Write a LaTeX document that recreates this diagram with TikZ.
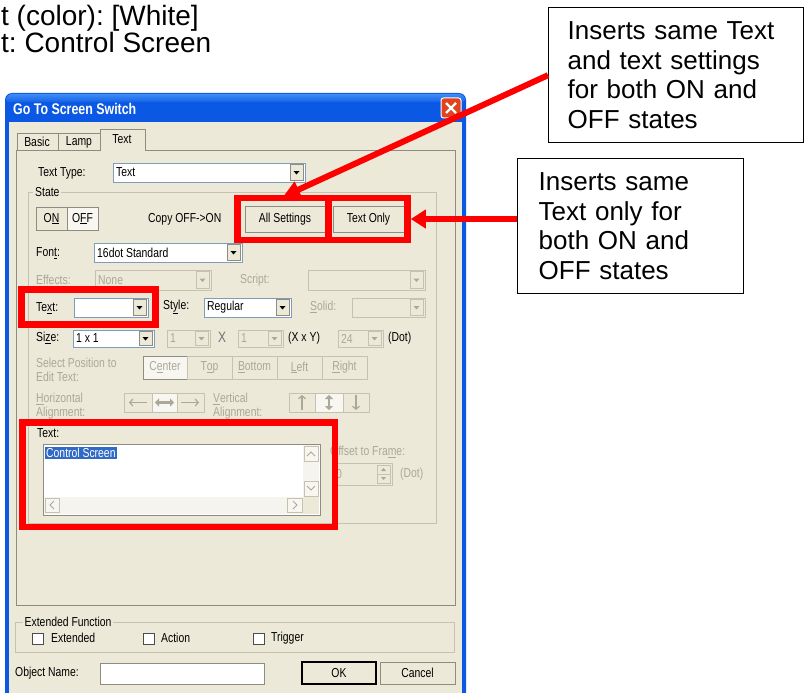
\documentclass[tikz,border=0pt]{standalone}
\usepackage{fontspec}
\setmainfont{Liberation Sans}
\newfontfamily\uif[FakeStretch=0.8]{Liberation Sans}
\usetikzlibrary{arrows.meta}
\frenchspacing
\definecolor{xpbg}{HTML}{ECE9D8}
\definecolor{xpbgL}{HTML}{F7F6F0}
\definecolor{xpblue}{HTML}{0A58E4}
\definecolor{xpblueL}{HTML}{3D8BF5}
\definecolor{xpdis}{HTML}{ACA899}
\definecolor{xpfield}{HTML}{7F9DB9}
\definecolor{xpline}{HTML}{C5C2B2}
\definecolor{xpsel}{HTML}{316AC5}
\definecolor{xpbtn}{HTML}{8E8C80}
\definecolor{xpred}{HTML}{E0441F}
\definecolor{xpscroll}{HTML}{F5F4EF}
\tikzset{
  ui/.style={font=\uif\fontsize{13}{15}\selectfont, inner sep=0pt, anchor=west, text=black},
  uid/.style={ui, text=xpdis},
  uic/.style={ui, anchor=center},
  uicd/.style={uid, anchor=center},
  toptext/.style={font=\fontsize{28}{28}\selectfont, anchor=base west, inner sep=0pt},
  titletext/.style={font=\uif\bfseries\fontsize{15.5}{17}\selectfont, text=white, anchor=base west, inner sep=0pt},
  call/.style={draw=black, line width=1.4pt, font=\fontsize{26}{29.6}\selectfont, align=left, anchor=north west, inner ysep=0pt},
  redbox/.style={draw=red, line width=6.5pt, inner sep=0pt},
  redarrow/.style={draw=red, line width=6pt},
  fieldbox/.style={draw=xpfield, fill=white, line width=0.8pt},
  disfield/.style={draw=xpline, fill=xpbg, line width=0.8pt},
  btnbox/.style={draw=xpbtn, fill=xpbg, line width=0.8pt},
  grpline/.style={draw=xpline, line width=0.8pt},
  tabline/.style={draw=xpbtn, line width=0.8pt},
  chk/.style={draw=black!70, fill=white, line width=0.8pt},
  arr/.style={draw=xpdis, line width=1.2pt},
}
\newcommand\uicombo[5]{%
  \draw[fieldbox] (#1,#2) rectangle (#3,#4);
  \draw[btnbox] ({#3-15},{#2+1.5}) rectangle ({#3-1.5},{#4-1.5});
  \fill ({#3-11.5},{(#2+#4)/2-1.5}) -- ++(6,0) -- ++(-3,3.5) -- cycle;
  \node[ui] at ({#1+3},{(#2+#4)/2}) {#5};
}
\newcommand\uicombod[5]{%
  \draw[disfield] (#1,#2) rectangle (#3,#4);
  \draw[disfield] ({#3-15},{#2+1.5}) rectangle ({#3-1.5},{#4-1.5});
  \fill[xpdis] ({#3-11.5},{(#2+#4)/2-1.5}) -- ++(6,0) -- ++(-3,3.5) -- cycle;
  \node[uid] at ({#1+3},{(#2+#4)/2}) {#5};
}
\newcommand\uibtn[5]{%
  \draw[btnbox] (#1,#2) rectangle (#3,#4);
  \node[uic] at ({(#1+#3)/2},{(#2+#4)/2}) {#5};
}
\newcommand\uibtnd[5]{%
  \draw[btnbox, draw=xpline] (#1,#2) rectangle (#3,#4);
  \node[uicd] at ({(#1+#3)/2},{(#2+#4)/2}) {#5};
}
\begin{document}
\begin{tikzpicture}[x=1pt,y=-1pt]
\useasboundingbox (0,0) rectangle (807,693);
\clip (0,0) rectangle (807,693);
\fill[white] (0,0) rectangle (807,693);

% text above the dialog
\node[toptext] (t1) at (1,26) {t (color): [White]};
\node[toptext] (t2) at (1,53) {t: Control Screen};

% window frame
\fill[xpblue, rounded corners=7pt] (5,93) rectangle (466,740);
\shade[top color=xpblueL, bottom color=xpblue, rounded corners=6pt] (6,94) rectangle (465,104);
\fill[xpblue] (6,102) rectangle (465,104);
\fill[xpbg] (9,122) rectangle (462,740);
\node[titletext] (title) at (13,114) {Go To Screen Switch};
\fill[xpred, rounded corners=2.5pt] (441,98) rectangle (461,118);
\draw[white, line width=1pt, rounded corners=2.5pt] (441,98) rectangle (461,118);
\draw[white, line width=2.4pt] (446,103) -- (456,113) (456,103) -- (446,113);

% tabs
\draw[tabline, fill=xpbg] (17,150) -- (17,133) -- (58,133) -- (58,150);
\draw[tabline, fill=xpbg] (58,150) -- (58,133) -- (100,133) -- (100,150);
\draw[tabline] (16,150) rectangle (455,605);
\filldraw[fill=xpbg, draw=xpbtn, line width=0.8pt] (100,151) -- (100,129) -- (145,129) -- (145,151);
\fill[xpbg] (100.5,149) rectangle (144.5,151.5);
\node[uic] (tabB) at (37,142) {Basic};
\node[uic] (tabL) at (79,142) {Lamp};
\node[uic] (tabT) at (122,139) {Text};

% text type
\node[ui] (lTT) at (38,173) {Text Type:};
\uicombo{113}{163}{305}{182}{Text}

% State group
\draw[grpline] (28,192) rectangle (436,523);
\node[ui, fill=xpbg, inner xsep=2pt] (lState) at (33,192) {State};

\draw[btnbox] (36,207) rectangle (67,230);
\node[uic] (bON) at (51.5,218.5) {O\underline{N}};
\draw[btnbox, fill=xpbgL] (67,207) rectangle (98,230);
\node[uic] (bOFF) at (82.5,218.5) {O\underline{F}F};
\node[ui] (lCopy) at (148,219) {Copy OFF->ON};
\uibtn{245}{206}{325}{232}{All Settings}
\uibtn{333}{206}{404}{232}{Text Only}

\node[ui] (lFont) at (36,253) {Fon\underline{t}:};
\uicombo{94}{243}{242}{262}{16dot Standard}
\node[uid] (lEff) at (36,280) {Effects:};
\uicombod{95}{270}{211}{290}{None}
\node[uid] (lScr) at (240,280) {Script:};
\uicombod{308}{270}{425}{290}{}

\node[ui] (lText) at (36,308) {Te\underline{x}t:};
\uicombo{74}{298}{148}{317}{}
\node[ui] (lStyle) at (163,307) {St\underline{y}le:};
\uicombo{204}{298}{291}{317}{Regular}
\node[uid] (lSolid) at (310,307) {\underline{S}olid:};
\uicombod{352}{298}{425}{317}{}

\node[ui] (lSize) at (36,338) {Si\underline{z}e:};
\uicombo{73}{330}{154}{347}{1 x 1}
\uicombod{167}{330}{210}{347}{1}
\node[ui, text=black!55, font=\uif\fontsize{15}{16}\selectfont] (lX) at (218,337) {X};
\uicombod{238}{330}{283}{347}{1}
\node[ui] (lXY) at (288,338) {(X x Y)};
\uicombod{338}{330}{383}{347}{24}
\node[ui] (lDot1) at (388,338) {(Dot)};

\node[uid] (lSel1) at (36,363) {Select Position to};
\node[uid] (lSel2) at (36,377) {Edit Text:};
\draw[btnbox, fill=xpbgL, draw=xpbtn] (143,356) rectangle (187,379);
\node[uicd] (bC) at (165,367.5) {C\underline{e}nter};
\uibtnd{187}{356}{232}{379}{T\underline{o}p}
\uibtnd{232}{356}{277}{379}{\underline{B}ottom}
\uibtnd{277}{356}{322}{379}{\underline{L}eft}
\uibtnd{322}{356}{367}{379}{\underline{R}ight}

\node[uid] (lH1) at (36,399) {\underline{H}orizontal};
\node[uid] (lH2) at (36,413) {Alignment:};
\draw[btnbox, draw=xpline] (124,393) rectangle (152,412);
\draw[btnbox, draw=xpline, fill=xpbgL] (152,393) rectangle (177,412);
\draw[btnbox, draw=xpline] (177,393) rectangle (204,412);
\draw[arr, -{Straight Barb[length=3pt,width=7pt]}] (147,402.5) -- (129,402.5);
\draw[arr, line width=2.4pt, {Triangle[length=4pt,width=8pt]}-{Triangle[length=4pt,width=8pt]}] (155,402.5) -- (174,402.5);
\draw[arr, -{Straight Barb[length=3pt,width=7pt]}] (181,402.5) -- (199,402.5);
\node[uid] (lV1) at (213,399) {\underline{V}ertical};
\node[uid] (lV2) at (213,413) {Alignment:};
\draw[btnbox, draw=xpline] (289,393) rectangle (315,412);
\draw[btnbox, draw=xpline, fill=xpbgL] (315,393) rectangle (343,412);
\draw[btnbox, draw=xpline] (343,393) rectangle (369,412);
\draw[arr, -{Straight Barb[length=3pt,width=7pt]}] (302,410) -- (302,395);
\draw[arr, line width=2.4pt, {Triangle[length=4pt,width=8pt]}-{Triangle[length=4pt,width=8pt]}] (329,395) -- (329,410);
\draw[arr, -{Straight Barb[length=3pt,width=7pt]}] (356,395) -- (356,410);

% text area
\node[ui] (lTxt) at (37,433) {Text:};
\draw[fieldbox, draw=xpbtn] (43,444) rectangle (320,515);
\fill[xpscroll] (303,445) rectangle (319,497);
\fill[xpscroll] (44,497) rectangle (303,514);
\fill[xpbg] (303,497) rectangle (319,514);
\draw[btnbox, draw=xpline, fill=xpbgL] (304,446) rectangle (318,461);
\draw[btnbox, draw=xpline, fill=xpbgL] (304,481) rectangle (318,496);
\draw[btnbox, draw=xpline, fill=xpbgL] (45,498) rectangle (59,512);
\draw[btnbox, draw=xpline, fill=xpbgL] (287,498) rectangle (302,512);
\draw[xpdis, line width=1pt] (307,456) -- (311,452) -- (315,456);
\draw[xpdis, line width=1pt] (307,486) -- (311,490) -- (315,486);
\draw[xpdis, line width=1pt] (54,501) -- (50,505) -- (54,509);
\draw[xpdis, line width=1pt] (293,501) -- (297,505) -- (293,509);
\node[ui, fill=xpsel, text=white, inner xsep=1pt, inner ysep=1.5pt] (selTxt) at (45,453) {Control Screen};

\node[uid] (lOff) at (330,452) {Offset to Fra\underline{m}e:};
\draw[disfield] (333,463) rectangle (392,485);
\draw[disfield] (377,465) rectangle (390,474);
\draw[disfield] (377,474) rectangle (390,483);
\fill[xpdis] (381,471) -- (386,471) -- (383.5,468) -- cycle;
\fill[xpdis] (381,477) -- (386,477) -- (383.5,480) -- cycle;
\node[uid] (lZero) at (336,474) {0};
\node[uid] (lDot2) at (400,474) {(Dot)};

% extended function
\draw[grpline] (15,622) rectangle (454,652);
\node[ui, fill=xpbg, inner xsep=1.5pt] (lExt) at (23,622) {Extended Function};
\draw[chk] (32,633) rectangle (43,644);
\node[ui] (lExtd) at (51,638) {Extended};
\draw[chk] (143,633) rectangle (154,644);
\node[ui] (lAct) at (161,638) {Action};
\draw[chk] (253,633) rectangle (264,644);
\node[ui] (lTrg) at (271,638) {Trigger};

\node[ui] (lObj) at (15,673) {Object Name:};
\draw[fieldbox, draw=xpbtn] (100,663) rectangle (264,684);
\draw[btnbox, draw=black, line width=1.3pt] (302,662) rectangle (376,684);
\node[uic] (bOK) at (339,673) {OK};
\uibtn{380}{662}{455}{684}{Cancel}

% red highlight boxes
\node[redbox, minimum width=91pt, minimum height=42pt] (rAS) at (283,219) {};
\node[redbox, minimum width=79pt, minimum height=42pt] (rTO) at (368,219) {};
\node[redbox, minimum width=134pt, minimum height=35pt] (rTX) at (88.5,307) {};
\node[redbox, minimum width=312.5pt, minimum height=104.5pt] (rTA) at (178.75,474.75) {};

% callouts
\node[call, text width=217pt, inner xsep=19pt, minimum height=135pt] (c1) at (548,7)
  {Inserts same Text\\and text settings\\for both ON and\\OFF states};
\node[call, text width=184pt, inner xsep=21pt, minimum height=135pt] (c2) at (517,158)
  {Inserts same\\Text only for\\both ON and\\OFF states};

\draw[redarrow, -{Triangle[length=17pt,width=17pt]}] (c1.west) -- ([yshift=-2pt]rAS.north);
\draw[redarrow, -{Triangle[length=15pt,width=18pt]}] (c2.west |- rTO.east) -- (rTO.east);
\end{tikzpicture}
\end{document}
